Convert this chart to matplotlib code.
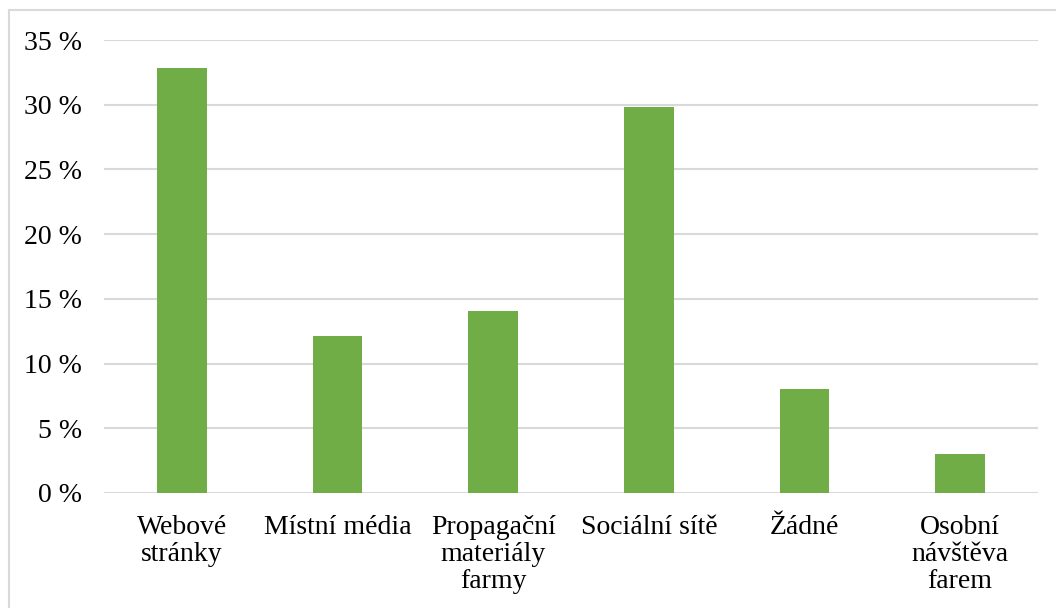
import matplotlib
matplotlib.use("Agg")
import matplotlib.pyplot as plt
from matplotlib.patches import Rectangle
import numpy as np

# data
categories = ["Webové\nstránky", "Místní média", "Propagační\nmateriály\nfarmy",
              "Sociální sítě", "Žádné", "Osobní\nnávštěva\nfarem"]
values = [32.8, 12.1, 14.1, 29.8, 8.0, 3.0]
y_ticks = [0, 5, 10, 15, 20, 25, 30, 35]

plt.rcParams['font.family'] = ['Liberation Serif', 'DejaVu Serif']

W, H = 1056, 608
fig = plt.figure(figsize=(W / 100, H / 100), dpi=100)
ax = fig.add_axes([104 / W, 1 - 493 / H, (1038 - 104) / W, (493 - 40) / H])

x = np.arange(len(categories))
ax.bar(x, values, width=0.32, color='#70ad47', zorder=3)

ax.set_xlim(-0.5, len(categories) - 0.5)
ax.set_ylim(0, 35)
ax.set_yticks(y_ticks)
ax.set_yticklabels([f"{v} %" for v in y_ticks], fontsize=20)
ax.set_xticks(x)
ax.set_xticklabels(categories, fontsize=20, linespacing=1.1, va='top')

ax.grid(axis='y', color='#d9d9d9', linewidth=1.5, zorder=0)
for s in ax.spines.values():
    s.set_visible(False)
ax.tick_params(axis='both', length=0)
ax.tick_params(axis='y', pad=16)
ax.tick_params(axis='x', pad=16)

# light border around the chart area
fig.patches.append(Rectangle((9 / W, -0.1), 1.2, 1.1 - 10 / H,
                             transform=fig.transFigure, fill=False,
                             edgecolor='#d9d9d9', linewidth=1.5))

fig.savefig('out.png', dpi=100)
